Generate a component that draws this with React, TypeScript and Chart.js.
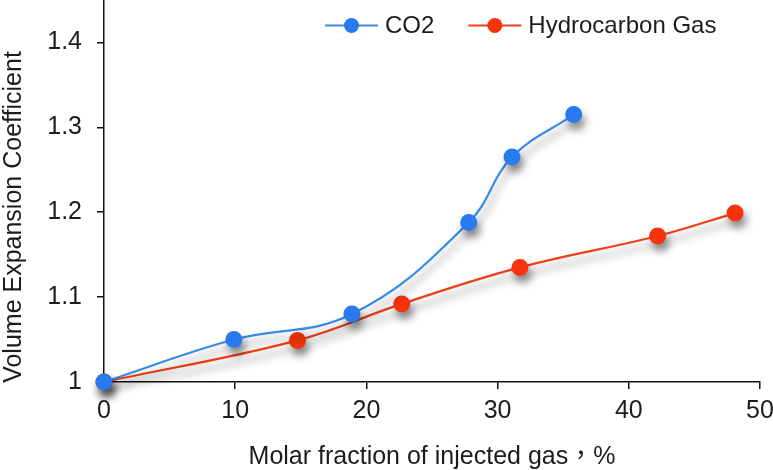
import React, { useEffect, useRef } from "react";
import { Chart, registerables } from "chart.js";

Chart.register(...registerables);

const co2X = [0, 9.9, 18.9, 27.8, 31.1, 35.8];
const co2Y = [1.0, 1.05, 1.08, 1.188, 1.265, 1.315];
const hcX = [0, 14.75, 22.7, 31.7, 42.2, 48.1];
const hcY = [1.0, 1.049, 1.092, 1.135, 1.172, 1.199];
const yTicks = [1, 1.1, 1.2, 1.3, 1.4];
const xTicks = [0, 10, 20, 30, 40, 50];
const seriesNames = ["CO2", "Hydrocarbon Gas"];
const xTitle = "Molar fraction of injected gas，%";
const yTitle = "Volume Expansion Coefficient";

const FONT = "'Liberation Sans', Arial, 'Noto Sans CJK TC', sans-serif";
const BLUE_LINE = "rgb(55,138,232)";
const BLUE_PT = "rgb(40,122,238)";
const RED_LINE = "rgb(242,62,24)";
const RED_PT = "rgb(245,52,12)";
const TEXT = "#1c1c1c";
const FS = 25;
const LEG_FS = 24;

export default function App() {
  const ref = useRef<HTMLCanvasElement>(null);
  useEffect(() => {
    const canvas = ref.current!;
    const shadow = {
      id: "shadow",
      beforeDatasetsDraw(chart: any) {
        const c = chart.ctx;
        c.save();
        c.shadowColor = "rgba(0,0,0,0.45)";
        c.shadowBlur = 9;
        c.shadowOffsetX = 3;
        c.shadowOffsetY = 7;
      },
      afterDatasetsDraw(chart: any) {
        chart.ctx.restore();
      },
    };
    const extras = {
      id: "extras",
      afterDraw(chart: any) {
        const c = chart.ctx;
        const ca = chart.chartArea;
        c.save();
        c.fillStyle = TEXT;
        c.font = `${FS}px ${FONT}`;
        // x title
        c.textAlign = "center";
        c.textBaseline = "alphabetic";
        c.fillText(xTitle, (ca.left + ca.right) / 2, ca.bottom + 82);
        // y title
        c.save();
        c.translate(21, ca.bottom - 165);
        c.rotate(-Math.PI / 2);
        c.fillText(yTitle, 0, 0);
        c.restore();
        // legend
        const colors = [
          [BLUE_LINE, BLUE_PT],
          [RED_LINE, RED_PT],
        ];
        c.font = `${LEG_FS}px ${FONT}`;
        let x = 325;
        const y = 25.5;
        c.textAlign = "left";
        c.textBaseline = "middle";
        seriesNames.forEach((name, i) => {
          c.strokeStyle = colors[i][0];
          c.lineWidth = 2;
          c.beginPath();
          c.moveTo(x, y);
          c.lineTo(x + 53, y);
          c.stroke();
          c.fillStyle = colors[i][1];
          c.beginPath();
          c.arc(x + 26.5, y, 7.5, 0, Math.PI * 2);
          c.fill();
          c.fillStyle = TEXT;
          c.fillText(name, x + 60, y + 1);
          x += 60 + c.measureText(name).width + 34;
        });
        c.restore();
      },
    };
    const mk = (xs: number[], ys: number[]) => xs.map((v, i) => ({ x: v, y: ys[i] }));
    const chart = new Chart(canvas, {
      type: "line",
      data: {
        datasets: [
          {
            label: seriesNames[0],
            data: mk(co2X, co2Y),
            borderColor: BLUE_LINE,
            backgroundColor: BLUE_PT,
            pointBackgroundColor: BLUE_PT,
            pointBorderWidth: 0,
            pointRadius: 8.5,
            borderWidth: 2.2,
            tension: 0.4,
            clip: false as any,
          },
          {
            label: seriesNames[1],
            data: mk(hcX, hcY),
            borderColor: RED_LINE,
            backgroundColor: RED_PT,
            pointBackgroundColor: RED_PT,
            pointBorderWidth: 0,
            pointRadius: 8.5,
            borderWidth: 2.2,
            tension: 0.4,
            clip: false as any,
          },
        ],
      },
      options: {
        responsive: false,
        animation: false,
        devicePixelRatio: 1,
        layout: { autoPadding: false, padding: { left: 0, right: 40, top: 0, bottom: 0 } },
        plugins: { legend: { display: false }, tooltip: { enabled: false } },
        scales: {
          x: {
            type: "linear",
            min: 0,
            max: 50,
            afterBuildTicks: (s: any) => {
              s.ticks = xTicks.map((v) => ({ value: v }));
            },
            afterFit: (s: any) => {
              s.height = 88;
              s.paddingLeft = 0;
              s.paddingRight = 0;
              s.paddingTop = 0;
              s.paddingBottom = 0;
            },
            grid: {
              display: true,
              drawOnChartArea: false,
              drawTicks: true,
              tickLength: 7,
              color: "#111",
              lineWidth: 1.5,
            },
            border: { display: true, color: "#111", width: 1.5 },
            ticks: {
              color: TEXT,
              font: { family: FONT, size: FS },
              padding: 7,
              maxRotation: 0,
              callback: (v: any) => String(v),
            },
          },
          y: {
            type: "linear",
            min: 1,
            max: 1.45,
            afterBuildTicks: (s: any) => {
              s.ticks = yTicks.map((v) => ({ value: v }));
            },
            afterFit: (s: any) => {
              s.width = 104;
              s.paddingLeft = 0;
              s.paddingRight = 0;
              s.paddingTop = 0;
              s.paddingBottom = 0;
            },
            grid: {
              display: true,
              drawOnChartArea: false,
              drawTicks: true,
              tickLength: 7,
              color: "#111",
              lineWidth: 1.5,
            },
            border: { display: true, color: "#111", width: 1.5 },
            ticks: {
              color: TEXT,
              font: { family: FONT, size: FS },
              padding: 15,
              callback: (v: any) => String(v),
            },
          },
        },
      },
      plugins: [shadow, extras],
    });
    return () => chart.destroy();
  }, []);
  return (
    <div style={{ position: "absolute", left: 0, top: 0, width: 773, height: 470, overflow: "hidden", background: "#fff" }}>
      <canvas ref={ref} width={800} height={470} style={{ width: 800, height: 470, display: "block" }} />
    </div>
  );
}
